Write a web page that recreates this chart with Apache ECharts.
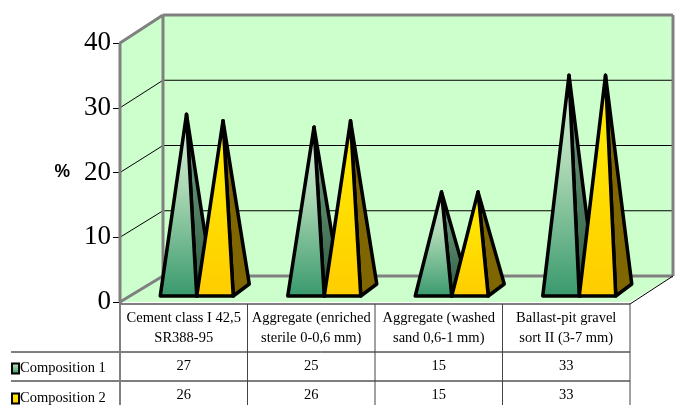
<!DOCTYPE html>
<html>
<head>
<meta charset="utf-8">
<style>html,body{margin:0;padding:0;background:#fff}#chart{width:697px;height:405px}</style>
<script src="https://cdn.jsdelivr.net/npm/echarts@6/dist/echarts.min.js"></script>
</head>
<body>
<div id="chart"></div>
<script>
// Concrete mix shares by constituent, two compositions.
const categories = [
  'Cement class I 42,5\nSR388-95',
  'Aggregate (enriched\nsterile 0-0,6 mm)',
  'Aggregate (washed\nsand 0,6-1 mm)',
  'Ballast-pit gravel\nsort II (3-7 mm)'
];
const composition1 = [27, 25, 15, 33];
const composition2 = [26, 26, 15, 33];
const yTicks = [0, 10, 20, 30, 40];

const SERIF = '"Liberation Serif", "Times New Roman", serif';
const WALL = '#ccffcc', FRAME = '#808080', INK = '#000000';
const DEPTH_X = 43;             // horizontal shift from the front plane to the back wall
const INSET = [13, -6];         // front face of a pyramid relative to the front plane
const RUN = [16, -12];          // front-to-back run of a pyramid base
const BAR_W = 36.5;
const ROW_Y = [366, 395];       // centres of the two table rows
const TABLE = { top: 304, r1: 352, r2: 381, bottom: 405, legendLeft: 11 };

const vGrad = (...stops) => new echarts.graphic.LinearGradient(0, 0, 0, 1,
  stops.map(([offset, color]) => ({ offset, color })));

function wallsItem(params, api) {
  const size = api.size([1, 0])[0];
  const x0 = api.coord([0, 0])[0] - size / 2;
  const x1 = api.coord([categories.length - 1, 0])[0] + size / 2;
  const y = v => api.coord([0, v])[1];
  // the back wall sits a little taller than the front plane
  const by = v => y(v) - 26 - 2 * v / 40;
  const bx0 = x0 + DEPTH_X, bx1 = x1 + DEPTH_X;
  const children = [];
  const poly = (pts, style) => children.push({ type: 'polygon', shape: { points: pts }, style });
  const line = (a, c, stroke, w) => children.push({
    type: 'line', shape: { x1: a[0], y1: a[1], x2: c[0], y2: c[1] },
    style: { stroke, lineWidth: w }
  });
  // floor, side wall, back wall
  poly([[x0, y(0)], [bx0, by(0)], [bx1, by(0)], [x1, y(0)]], { fill: WALL });
  poly([[x0, y(40)], [bx0, by(40)], [bx0, by(0)], [x0, y(0)]], { fill: WALL });
  poly([[bx0, by(40)], [bx1, by(40)], [bx1, by(0)], [bx0, by(0)]], { fill: WALL });
  // gridlines wrap from the side wall on to the back wall
  yTicks.slice(1, -1).forEach(v => {
    line([x0, y(v)], [bx0, by(v)], INK, 1);
    line([bx0, by(v)], [bx1, by(v)], INK, 1);
  });
  // wall frame
  const tl = [bx0, by(40)], tr = [bx1, by(40)], bl = [bx0, by(0)], br = [bx1, by(0)];
  line([x0, y(40)], [x0, y(0)], FRAME, 3);
  line([x0, y(40)], tl, FRAME, 3);
  line(tl, tr, FRAME, 3);
  line(tr, br, FRAME, 3);
  line(tl, bl, FRAME, 3);
  line(bl, br, FRAME, 3);
  line([x0, y(0)], bl, FRAME, 3);
  line(br, [x1, y(0) + 2], INK, 1);
  // table rules
  line([x0, TABLE.top], [x1, TABLE.top], INK, 1);
  line([TABLE.legendLeft, TABLE.r1], [x1, TABLE.r1], INK, 1);
  line([TABLE.legendLeft, TABLE.r2], [x1, TABLE.r2], '#555555', 1.5);
  categories.forEach((c, i) => {
    const xr = x0 + size * (i + 1);
    line([xr, TABLE.top], [xr, TABLE.bottom], '#444444', 1);
  });
  line([x0, y(0)], [x0, TABLE.bottom], FRAME, 2);
  return { type: 'group', children };
}

function pyramidItem(order, front, side) {
  return function (params, api) {
    const cat = api.value(0), val = api.value(1);
    const top = api.coord([cat, val]);
    const base = api.coord([cat, 0]);
    const left = base[0] + INSET[0] - BAR_W + order * BAR_W;
    const right = left + BAR_W;
    const by = base[1] + INSET[1];
    const apex = [(left + right) / 2 + RUN[0] / 2, top[1] + INSET[1] + RUN[1] / 2 - 1];
    const outline = { stroke: INK, lineWidth: 3.5, lineJoin: 'round' };
    return {
      type: 'group',
      children: [
        { type: 'polygon', shape: { points: [[right, by], [right + RUN[0], by + RUN[1]], apex] },
          style: Object.assign({ fill: side }, outline) },
        { type: 'polygon', shape: { points: [[left, by], [right, by], apex] },
          style: Object.assign({ fill: front }, outline) }
      ]
    };
  };
}

function rowItem(rowIndex) {
  return function (params, api) {
    const c = api.coord([api.value(0), 0]);
    return {
      type: 'text',
      style: {
        x: c[0], y: ROW_Y[rowIndex], text: String(api.value(1)),
        font: '14.5px ' + SERIF, fill: INK, align: 'center', verticalAlign: 'middle'
      }
    };
  };
}

const pairs = arr => arr.map((v, i) => [i, v]);
const chart = echarts.init(document.getElementById('chart'), null, { renderer: 'canvas' });

chart.setOption({
  animation: false,
  backgroundColor: '#ffffff',
  grid: { left: 120, right: 67, top: 43, bottom: 103 },
  legend: {
    orient: 'vertical', left: 11, top: 361, height: 60, itemGap: 15,
    itemWidth: 7, itemHeight: 10, padding: 0, selectedMode: false,
    textStyle: { fontFamily: SERIF, fontSize: 14.5, lineHeight: 14, color: INK, padding: [0, 0, 0, -4] },
    data: [
      { name: 'Composition 1', icon: 'rect' },
      { name: 'Composition 2', icon: 'rect' }
    ]
  },
  xAxis: {
    type: 'category', data: categories,
    axisLine: { show: false }, axisTick: { show: false },
    axisLabel: { interval: 0, margin: 6, lineHeight: 20, fontFamily: SERIF, fontSize: 14.5, color: INK }
  },
  yAxis: {
    type: 'value', min: 0, max: 40, interval: 10,
    name: '%', nameLocation: 'middle', nameGap: 50, nameRotate: 0,
    nameTextStyle: { fontFamily: '"Liberation Sans", Arial, sans-serif', fontWeight: 'bold', fontSize: 17.5, color: INK, padding: [6, 0, 0, 0] },
    axisLine: { show: true, lineStyle: { color: FRAME, width: 3 } },
    axisTick: { show: true, length: 7, lineStyle: { color: INK, width: 1 } },
    axisLabel: { margin: 9, fontFamily: SERIF, fontSize: 27, color: INK },
    splitLine: { show: false }
  },
  series: [
    { type: 'custom', name: 'walls', silent: true, z: 1, data: [0], renderItem: wallsItem, encode: { x: 0 } },
    {
      type: 'custom', name: 'Composition 1', z: 3, data: pairs(composition1),
      itemStyle: { color: vGrad([0, '#cdeccd'], [1, '#2f9163']), borderColor: INK, borderWidth: 2 },
      renderItem: pyramidItem(0,
        vGrad([0, '#d8f3d8'], [0.4, '#add9b5'], [1, '#38986c']),
        vGrad([0, '#7aa98a'], [1, '#2c5a40'])),
      encode: { x: 0, y: 1 }
    },
    {
      type: 'custom', name: 'Composition 2', z: 4, data: pairs(composition2),
      itemStyle: { color: vGrad([0, '#ffee00'], [1, '#ffcc00']), borderColor: INK, borderWidth: 2 },
      renderItem: pyramidItem(1, vGrad([0, '#fff000'], [1, '#ffcc00']), '#806600'),
      encode: { x: 0, y: 1 }
    },
    { type: 'custom', name: 'row1', silent: true, z: 5, data: pairs(composition1), renderItem: rowItem(0), encode: { x: 0, y: 1 } },
    { type: 'custom', name: 'row2', silent: true, z: 5, data: pairs(composition2), renderItem: rowItem(1), encode: { x: 0, y: 1 } }
  ]
});
</script>
</body>
</html>
